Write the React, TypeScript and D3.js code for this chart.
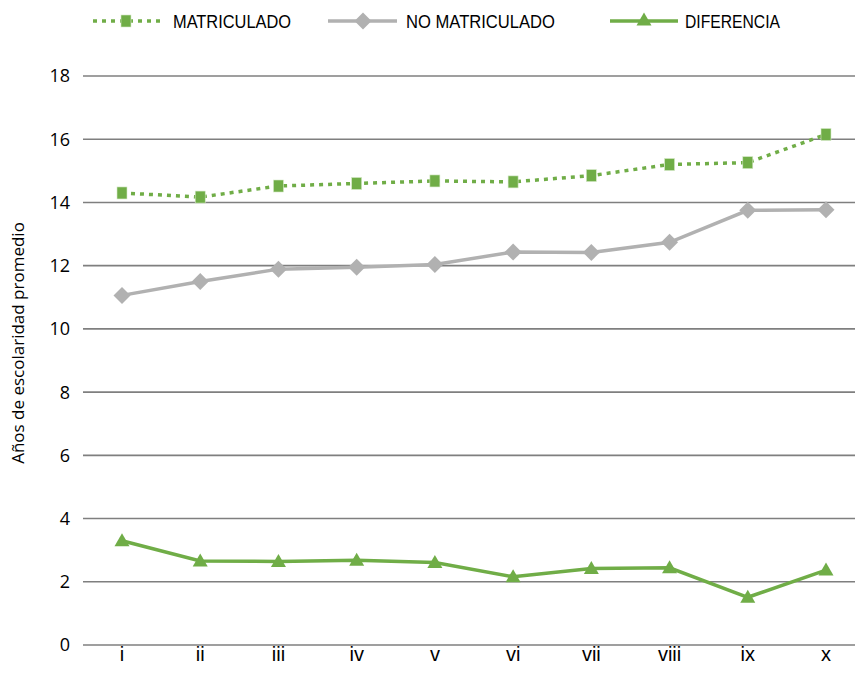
import React from "react";
import * as d3 from "d3";

const categories = ["i", "ii", "iii", "iv", "v", "vi", "vii", "viii", "ix", "x"];
const matriculado = [14.3, 14.17, 14.52, 14.6, 14.68, 14.65, 14.85, 15.2, 15.26, 16.15];
const noMatriculado = [11.06, 11.5, 11.89, 11.95, 12.04, 12.43, 12.42, 12.74, 13.75, 13.77];
const diferencia = [3.3, 2.66, 2.64, 2.68, 2.61, 2.16, 2.42, 2.44, 1.51, 2.37];
const yTicks = [0, 2, 4, 6, 8, 10, 12, 14, 16, 18];
const yTitle = "Años de escolaridad promedio";
const legendNames = ["MATRICULADO", "NO MATRICULADO", "DIFERENCIA"];

const W = 855;
const H = 688;
const GREEN = "#70AD47";
const GRAY = "#B1B1B1";
const GRID = "#7F7F7F";
const NARROW = "'Liberation Sans', Arial, sans-serif";
const SANS = "'Open Sans', sans-serif";

export default function App() {
  const x = d3.scalePoint<string>().domain(categories).range([122, 826]);
  const y = d3.scaleLinear().domain([0, 18]).range([645, 76]);
  const line = d3
    .line<number>()
    .x((_, i) => x(categories[i]) as number)
    .y((d) => y(d));

  const square = (cx: number, cy: number, k: string) => (
    <rect key={k} x={cx - 5} y={cy - 6} width={10} height={12} fill={GREEN} stroke="#d6e9c8" strokeWidth={0.6} />
  );
  const diamond = (cx: number, cy: number, k: string) => (
    <path key={k} d={`M${cx},${cy - 8.5}L${cx + 8.5},${cy}L${cx},${cy + 8.5}L${cx - 8.5},${cy}Z`} fill={GRAY} />
  );
  const triangle = (cx: number, cy: number, k: string) => (
    <path key={k} d={`M${cx},${cy - 7.5}L${cx + 7.5},${cy + 5.5}L${cx - 7.5},${cy + 5.5}Z`} fill={GREEN} />
  );

  return (
    <svg width={W} height={H} style={{ position: "absolute", left: 0, top: 0, background: "#fff" }}>
      {yTicks.map((t) => (
        <g key={t}>
          <line x1={83} x2={W} y1={y(t)} y2={y(t)} stroke={GRID} strokeWidth={1.6} />
          <text x={70} y={y(t)} dy="0.36em" textAnchor="end" fontFamily={SANS} fontSize={18} fill="#000">
            {t}
          </text>
        </g>
      ))}
      <text
        transform={`translate(24,343) rotate(-90)`}
        textAnchor="middle"
        fontFamily={SANS}
        fontSize={17}
        fill="#000"
      >
        {yTitle}
      </text>
      {categories.map((c) => (
        <text key={c} x={x(c)} y={661} textAnchor="middle" fontFamily={NARROW} fontSize={20} fill="#000">
          {c}
        </text>
      ))}
      <path d={line(noMatriculado) || ""} fill="none" stroke={GRAY} strokeWidth={3.5} />
      {noMatriculado.map((v, i) => diamond(x(categories[i]) as number, y(v), "d" + i))}
      <path d={line(matriculado) || ""} fill="none" stroke={GREEN} strokeWidth={3.5} strokeDasharray="4 5" />
      {matriculado.map((v, i) => square(x(categories[i]) as number, y(v), "s" + i))}
      <path d={line(diferencia) || ""} fill="none" stroke={GREEN} strokeWidth={3.5} />
      {diferencia.map((v, i) => triangle(x(categories[i]) as number, y(v), "t" + i))}
      <g>
        <line x1={93} x2={160} y1={21} y2={21} stroke={GREEN} strokeWidth={3.5} strokeDasharray="4 5" />
        {square(126, 21, "ls")}
        <text x={173} y={28} fontFamily={NARROW} fontSize={19} textLength={118} lengthAdjust="spacingAndGlyphs" fill="#000">
          {legendNames[0]}
        </text>
        <line x1={328} x2={397} y1={21} y2={21} stroke={GRAY} strokeWidth={3.5} />
        {diamond(363, 21, "ld")}
        <text x={406} y={28} fontFamily={NARROW} fontSize={19} textLength={149} lengthAdjust="spacingAndGlyphs" fill="#000">
          {legendNames[1]}
        </text>
        <line x1={610} x2={678} y1={21} y2={21} stroke={GREEN} strokeWidth={3.5} />
        {triangle(644, 20, "lt")}
        <text x={685} y={28} fontFamily={NARROW} fontSize={19} textLength={95} lengthAdjust="spacingAndGlyphs" fill="#000">
          {legendNames[2]}
        </text>
      </g>
    </svg>
  );
}
